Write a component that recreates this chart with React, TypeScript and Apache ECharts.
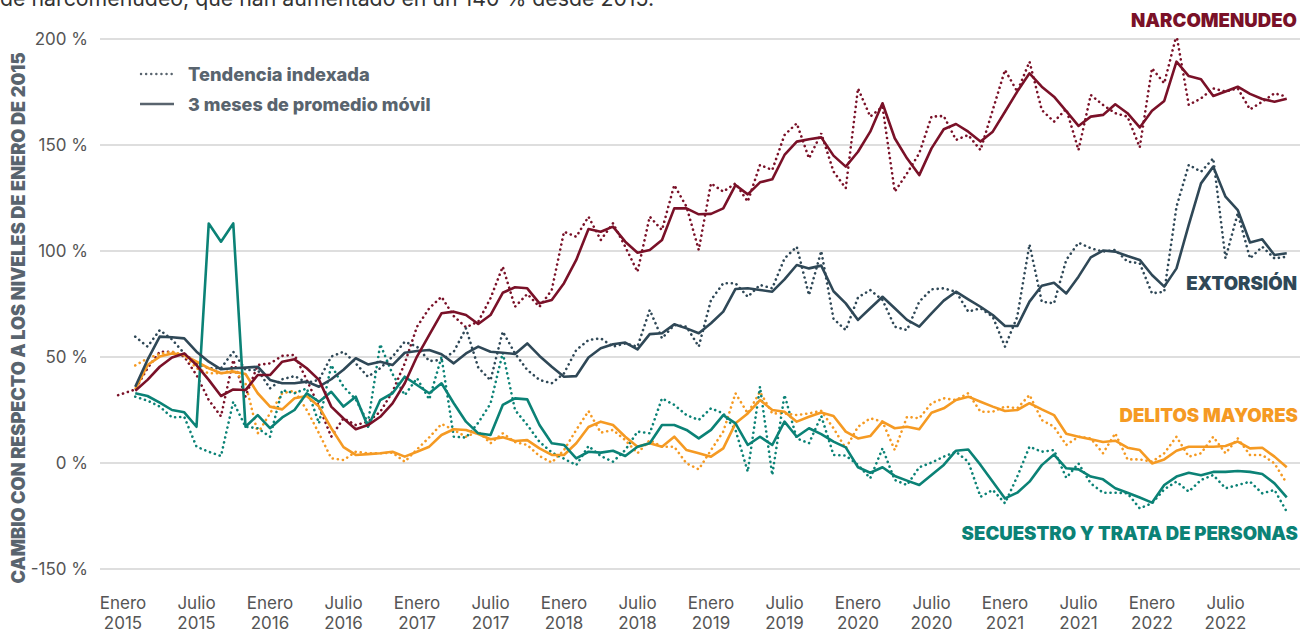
import React, { useEffect, useRef } from "react";
import * as echarts from "echarts";

// Month index: 0 = Enero 2015. Data points run monthly from month 1.
const tickMonths = [0, 6, 12, 18, 24, 30, 36, 42, 48, 54, 60, 66, 72, 78, 84, 90];
const tickLabels = [
  "Enero\n2015", "Julio\n2015", "Enero\n2016", "Julio\n2016", "Enero\n2017", "Julio\n2017",
  "Enero\n2018", "Julio\n2018", "Enero\n2019", "Julio\n2019", "Enero\n2020", "Julio\n2020",
  "Enero\n2021", "Julio\n2021", "Enero\n2022", "Julio\n2022",
];
const yTicks = [-50, 0, 50, 100, 150, 200];
const yTickLabels = ["-150 %", "0 %", "50 %", "100 %", "150 %", "200 %"];

const firstMonth = 1;

const narcoAvg = [34.1, 39.2, 45.4, 49.8, 51.7, 46.2, 39.2, 31.6, 34.7, 34.4, 41.5, 41.5, 47.8, 48.9, 44.7, 39.2, 26.6, 21, 15.9, 17.9, 21.8, 28.1, 37.6, 50.2, 60.4, 70.6, 71.4, 69.8, 65.6, 69.8, 80.3, 82.9, 82.4, 75.3, 76.9, 84.8, 95.8, 110.4, 109.1, 111.5, 104.4, 99.2, 100.5, 105.2, 120.1, 120.1, 117.3, 117.5, 120.1, 131.1, 126.7, 132.4, 133.8, 145.3, 151.6, 152.7, 153.6, 145, 139.8, 146.8, 156.3, 169.7, 153.2, 143.7, 135.8, 148.4, 157.4, 159.9, 156.3, 151.6, 156.3, 165.7, 175.2, 183.8, 177.5, 172.8, 166, 159, 163.4, 164.2, 169.2, 165, 158.3, 166.2, 170.8, 189.3, 182.5, 181, 173.1, 175.2, 177.5, 174.1, 171.7, 170.4, 171.8];
const narcoIdxLeadMonth = -0.4;
const narcoIdxLead = 32;
const narcoIdx = [34.7, 44.7, 52.5, 52.5, 50.2, 41.5, 29.7, 22, 48.6, 31.3, 46.2, 47, 50.5, 51, 39.2, 26.6, 12.4, 21.1, 17.9, 19.5, 24.2, 33.6, 47, 64.3, 73, 78.4, 69.3, 64, 66.7, 77.7, 92.6, 73.7, 79.7, 73.7, 81.6, 109.1, 106.7, 116.2, 105.2, 113.1, 102, 90.2, 116.2, 109.9, 131.1, 120.9, 100.5, 131.9, 128, 131.9, 123.3, 140.6, 138.2, 154.7, 160.2, 143.7, 155.5, 137.5, 129.6, 176.7, 163.4, 168.1, 128, 136.6, 146.1, 163.4, 163.7, 152.4, 154.7, 147.6, 166.5, 185.4, 175.2, 189.3, 166.5, 161, 167, 147.6, 173.6, 168.9, 165, 163.4, 148.9, 186.2, 179.1, 201.9, 168.9, 172, 176.7, 175.2, 176.7, 166.8, 170.4, 174.4, 172.8];

const extAvg = [36, 48.6, 59.6, 59.3, 58.8, 52.5, 47.8, 44.2, 44.7, 45, 45.4, 39.2, 37.6, 37.6, 38.4, 36, 39.5, 44, 49.4, 46.5, 47.8, 46.2, 52, 52.8, 53.3, 51.3, 47, 51.7, 54.9, 52.5, 52, 51.4, 56.4, 50.5, 45.4, 40.7, 41, 49.8, 54.1, 56, 56.8, 53.6, 60.8, 61.2, 65.4, 63.5, 61.2, 65.9, 71.4, 82.1, 82.4, 81.6, 80.8, 86.6, 93.4, 91.8, 93.1, 81, 75.3, 67.5, 73, 78.4, 73, 67.5, 64.3, 70.6, 76.6, 80.8, 77.2, 73.7, 69.8, 64.6, 64.6, 76.1, 83.6, 85, 80, 87.9, 97, 100.2, 99.7, 97.6, 95.8, 88.7, 83.2, 91.8, 112.3, 131.9, 139.8, 125.6, 119.3, 104, 105.5, 98.1, 98.9];
const extIdx = [59.6, 54.9, 62.7, 58.3, 51.7, 47, 44.7, 44.7, 52.5, 43.9, 43.9, 35.2, 39.5, 41, 37.9, 39.2, 50.2, 52.5, 47, 40.7, 44.7, 50.2, 57.2, 54.9, 48.1, 48.6, 52.5, 63.5, 45, 39, 62, 51.7, 43.9, 39.2, 37.6, 42.3, 53.3, 58, 58.8, 54.9, 56.4, 54.9, 72.2, 58.8, 65.1, 64.3, 54.9, 76.9, 84.8, 84.8, 78.4, 84, 82.4, 96.5, 102, 79.2, 100, 68, 62.7, 78.1, 81.6, 76.9, 64.3, 62.7, 76.1, 81.9, 82.4, 80.8, 71.4, 73, 69, 54.9, 69, 103.1, 76.1, 75.3, 95.8, 103.9, 101.3, 99.7, 100.5, 95, 94.2, 80, 80.8, 120.9, 140.6, 137.4, 143.7, 96.5, 117.8, 96.5, 102, 96.5, 97.3];

const mayAvg = [34.7, 46.2, 50.2, 51.7, 50.9, 47.8, 44.7, 42.3, 43.1, 42, 32.9, 26.6, 25.3, 30.5, 31.6, 26.6, 16.4, 7.5, 3.8, 4.2, 4.6, 5.3, 3, 5.3, 7.7, 13.2, 15.9, 15.6, 13.7, 11.2, 12.1, 10.4, 10.8, 6.9, 3.8, 3.8, 9.3, 17, 19.5, 17.9, 12.4, 7.7, 9.3, 7.7, 12.4, 6.1, 4.6, 3, 6.9, 18.7, 23.4, 29.7, 25, 24.2, 19.5, 21.8, 23.8, 22.2, 14.8, 11.6, 12.7, 19.5, 16.4, 17.1, 15.9, 23.7, 25.8, 29.7, 31.3, 28.9, 26.6, 24.5, 25, 28.2, 25.3, 22.6, 13.8, 12.4, 11.2, 9.9, 10.5, 7.2, 6.1, -0.2, 1.7, 5.8, 7.7, 7.7, 7.7, 8, 10.1, 6.9, 7.2, 3, -2];
const mayIdx = [46, 49.4, 51.4, 52.5, 50.9, 44.7, 42.3, 42.3, 43.9, 37.6, 14, 23.4, 32.9, 34.1, 25, 14, 2.2, 1.4, 5.3, 4.6, 4.6, 4.9, 0.6, 6.4, 12.1, 18.4, 15.6, 12.4, 14.8, 9.3, 14, 9.9, 8.5, 3.3, 0.2, 6.1, 15.6, 24.5, 14.3, 15.6, 10.8, 4.6, 10.8, 7.7, 7.7, -0.2, -3, 6.1, 14.8, 32.9, 23.4, 33.6, 23.4, 23.4, 22.6, 23.4, 24.6, 16.4, 6.9, 17.1, 21.1, 19.5, 6.1, 21.8, 21.1, 28.2, 30.5, 29.7, 32.9, 24.2, 24.2, 26.6, 25.8, 32.1, 20.3, 17.1, 8.5, 12.4, 11.6, 4.6, 14, 1.7, 1.7, 0.6, 4.6, 12.4, 3, 4.6, 12.4, 4.6, 11.6, 3.8, 3.8, -0.2, -9.6];

const secAvg = [32.9, 31.6, 28.5, 25, 23.9, 17.1, 113, 104.4, 113, 17.1, 22.6, 16.4, 21.5, 25, 32.9, 28.9, 33.6, 26.6, 31.3, 17.1, 29.7, 32.9, 40.7, 36.8, 32.9, 37.6, 28.2, 19.5, 14, 13.2, 27.4, 30.5, 30, 17.9, 9.3, 8.5, 2.2, 5.3, 4.9, 5.8, 3.3, 7.7, 9.3, 17.9, 17.9, 15.6, 11.6, 15.6, 22.6, 18.7, 8.5, 12.4, 8.5, 19.5, 12.4, 16.4, 13.6, 10.1, 7.4, -2, -4.6, -2, -6.1, -8.3, -10.4, -5.7, -0.9, 5.8, 6.4, -0.9, -8.8, -16.7, -14, -8.8, -1, 4, -2.5, -3, -6.4, -7.7, -11.9, -14, -16.3, -18.7, -10.4, -6.4, -4.6, -5.8, -4.2, -4.2, -3.8, -4.2, -5.2, -9.6, -16.2];
const secIdx = [31.3, 29.4, 26.6, 21.5, 21.8, 7.7, 5.3, 3.3, 28.9, 17.1, 16.4, 12.4, 34.4, 32.9, 35.2, 18.7, 46.2, 36, 30, 19, 56, 42, 32, 40, 30, 50, 12.4, 12, 19, 28, 52, 25, 18, 10, 5, 2, -1, 8, 3.3, 0.6, 6.1, 14.8, 14, 30.5, 27.4, 22.6, 20.3, 25.8, 23.4, 15.6, -4.1, 36, -5.7, 32.1, 11.6, 9.3, 22.2, 3.8, 3.5, -0.9, -7.2, 6.9, -8, -10.4, -2, 0.2, 3, 5.3, 0.6, -15.9, -12.7, -19, -6.4, 7.7, 5.3, 6.1, -7, -0.2, -9.6, -14, -14, -14.3, -21.4, -19, -12.4, -8.8, -13.5, -8, -5.7, -11.9, -10.4, -8.8, -14.3, -12.7, -23];

const COLORS = {
  narco: "#7a1128",
  ext: "#2f4857",
  may: "#f59a23",
  sec: "#0b8276",
  legend: "#59646e",
  axis: "#555555",
  grid: "#d3d3d3",
};

const toPairs = (vals: number[]) => vals.map((v, i) => [firstMonth + i, v]);

const solid = (name: string, vals: number[], color: string, z: number) => ({
  name,
  type: "line",
  data: toPairs(vals),
  symbol: "none",
  z,
  lineStyle: { color, width: 2.6, join: "round" },
});

const dotted = (name: string, pts: number[][], color: string, z: number) => ({
  name,
  type: "line",
  data: pts,
  symbol: "none",
  z,
  lineStyle: { color, width: 2.6, type: [0.1, 5], cap: "round" },
});

const labelFont = "Inter";

export default function App() {
  const ref = useRef<HTMLDivElement>(null);
  useEffect(() => {
    if (!ref.current) return;
    const chart = echarts.init(ref.current, null, { renderer: "svg" });
    const pxPerMonth = 12.25;
    const gridLeft = 100;
    const gridWidth = 1200;
    const xMin = -23 / pxPerMonth;
    const xMax = xMin + gridWidth / pxPerMonth;
    const option = {
      animation: false,
      backgroundColor: "#ffffff",
      grid: { left: gridLeft, top: 39, width: gridWidth, height: 530, outerBoundsMode: "none", containLabel: false },
      xAxis: {
        type: "value",
        min: xMin,
        max: xMax,
        axisLine: { show: false },
        axisTick: { show: false },
        splitLine: { show: false },
        axisLabel: {
          customValues: tickMonths,
          formatter: (v: number) => tickLabels[tickMonths.indexOf(Math.round(v))] ?? "",
          color: COLORS.axis,
          fontFamily: labelFont,
          fontSize: 17,
          lineHeight: 20,
          margin: 24,
        },
      },
      yAxis: {
        type: "value",
        min: -50,
        max: 200,
        interval: 50,
        axisLine: { show: false },
        axisTick: { show: false },
        splitLine: { lineStyle: { color: COLORS.grid, width: 1.5 } },
        axisLabel: {
          formatter: (v: number) => yTickLabels[yTicks.indexOf(v)] ?? "",
          color: COLORS.axis,
          fontFamily: labelFont,
          fontSize: 17,
          margin: 12,
        },
      },
      series: [
        dotted("Narcomenudeo tendencia", [[narcoIdxLeadMonth, narcoIdxLead], ...toPairs(narcoIdx)], COLORS.narco, 2),
        dotted("Extorsión tendencia", toPairs(extIdx), COLORS.ext, 2),
        dotted("Delitos mayores tendencia", toPairs(mayIdx), COLORS.may, 2),
        dotted("Secuestro tendencia", toPairs(secIdx), COLORS.sec, 2),
        solid("Delitos mayores promedio", mayAvg, COLORS.may, 3),
        solid("Secuestro promedio", secAvg, COLORS.sec, 3),
        solid("Extorsión promedio", extAvg, COLORS.ext, 3),
        solid("Narcomenudeo promedio", narcoAvg, COLORS.narco, 3),
      ],
      graphic: [
        {
          type: "text",
          left: 0,
          top: -13,
          style: {
            text: "de narcomenudeo, que han aumentado en un 140 % desde 2015.",
            fill: "#333333",
            font: "21.3px Inter",
          },
        },
        {
          type: "text",
          x: 18,
          y: 318,
          rotation: Math.PI / 2,
          style: {
            text: "CAMBIO CON RESPECTO A LOS NIVELES DE ENERO DE 2015",
            fill: COLORS.legend,
            font: "900 18.1px Inter",
            align: "center",
            verticalAlign: "middle",
          },
        },
        {
          type: "line",
          shape: { x1: 141, y1: 74, x2: 173, y2: 74 },
          style: { stroke: COLORS.legend, lineWidth: 2.4, lineDash: [0.1, 5], lineCap: "round" },
        },
        {
          type: "text",
          x: 188,
          y: 74,
          style: { text: "Tendencia indexada", fill: COLORS.legend, font: "800 18.3px Inter", verticalAlign: "middle" },
        },
        {
          type: "line",
          shape: { x1: 140, y1: 104, x2: 174, y2: 104 },
          style: { stroke: COLORS.legend, lineWidth: 2.6 },
        },
        {
          type: "text",
          x: 188,
          y: 104,
          style: { text: "3 meses de promedio móvil", fill: COLORS.legend, font: "800 18px Inter", verticalAlign: "middle" },
        },
        {
          type: "text",
          x: 1297,
          y: 20,
          style: { text: "NARCOMENUDEO", fill: COLORS.narco, font: "900 18.6px Inter", align: "right", verticalAlign: "middle" },
        },
        {
          type: "text",
          x: 1297,
          y: 283,
          style: { text: "EXTORSIÓN", fill: COLORS.ext, font: "900 18.6px Inter", align: "right", verticalAlign: "middle" },
        },
        {
          type: "text",
          x: 1298,
          y: 415,
          style: { text: "DELITOS MAYORES", fill: COLORS.may, font: "900 18.6px Inter", align: "right", verticalAlign: "middle" },
        },
        {
          type: "text",
          x: 1298,
          y: 533,
          style: { text: "SECUESTRO Y TRATA DE PERSONAS", fill: COLORS.sec, font: "900 18.6px Inter", align: "right", verticalAlign: "middle" },
        },
      ],
    };
    chart.setOption(option as any);
    return () => chart.dispose();
  }, []);
  return <div ref={ref} style={{ width: 1302, height: 633, position: "absolute", left: 0, top: 0 }} />;
}
